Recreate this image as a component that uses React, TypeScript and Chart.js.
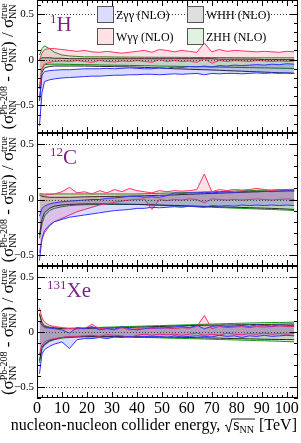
import React, { useEffect, useRef } from 'react';
import { Chart, registerables } from 'chart.js';

Chart.register(...registerables);

// ---------------- data ----------------
const energies = [1, 2, 3, 5, 7, 10, 13, 16, 19, 22, 25, 28, 31, 34, 37, 40, 43, 46, 49, 52, 55, 58, 61, 64, 67, 70, 73, 76, 79, 82, 85, 88, 91, 94, 97, 100, 103];
const xTickValues = [0, 10, 20, 30, 40, 50, 60, 70, 80, 90, 100];
const yTickValues = [-0.5, 0, 0.5];

const processNames = ['Zγγ (NLO)', 'Wγγ (NLO)', 'WHH (NLO)', 'ZHH (NLO)'];

// 1H panel
const H_Zgg_lo = [-0.72, -0.36, -0.24, -0.22, -0.21, -0.2, -0.195, -0.19, -0.185, -0.18, -0.18, -0.175, -0.17, -0.17, -0.165, -0.165, -0.16, -0.16, -0.165, -0.16, -0.155, -0.16, -0.155, -0.15, -0.165, -0.15, -0.155, -0.15, -0.15, -0.155, -0.15, -0.145, -0.15, -0.145, -0.15, -0.145, -0.15];
const H_Zgg_hi = [-0.45, -0.17, -0.13, -0.12, -0.115, -0.11, -0.11, -0.105, -0.1, -0.1, -0.1, -0.095, -0.1, -0.095, -0.09, -0.095, -0.1, -0.1, -0.09, -0.095, -0.08, -0.085, -0.075, -0.08, -0.07, -0.08, -0.065, -0.07, -0.06, -0.065, -0.06, -0.055, -0.06, -0.05, -0.055, -0.045, -0.05];
const H_Wgg_lo = [-0.32, -0.1, -0.05, -0.03, -0.02, -0.015, -0.02, -0.01, -0.02, -0.03, -0.01, -0.02, -0.025, -0.015, -0.02, -0.01, -0.02, -0.03, 0.0, -0.02, -0.01, -0.02, -0.015, -0.03, 0.01, -0.04, -0.01, -0.02, -0.01, -0.015, -0.02, -0.01, -0.015, -0.02, -0.015, -0.02, -0.015];
const H_Wgg_hi = [0.0, 0.07, 0.11, 0.12, 0.12, 0.11, 0.1, 0.09, 0.1, 0.085, 0.08, 0.09, 0.08, 0.07, 0.08, 0.09, 0.1, 0.08, 0.11, 0.1, 0.085, 0.1, 0.09, 0.08, 0.18, 0.085, 0.11, 0.09, 0.1, 0.095, 0.09, 0.085, 0.09, 0.085, 0.08, 0.09, 0.085];
const H_WHH_lo = [-0.45, -0.14, -0.09, -0.075, -0.07, -0.07, -0.07, -0.07, -0.07, -0.072, -0.074, -0.075, -0.077, -0.078, -0.08, -0.082, -0.085, -0.088, -0.09, -0.095, -0.1, -0.102, -0.105, -0.108, -0.11, -0.113, -0.116, -0.12, -0.123, -0.126, -0.13, -0.133, -0.136, -0.14, -0.143, -0.146, -0.15];
const H_WHH_hi = [0.0, 0.02, 0.02, 0.02, 0.015, 0.015, 0.01, 0.01, 0.01, 0.01, 0.01, 0.01, 0.01, 0.01, 0.01, 0.01, 0.01, 0.01, 0.01, 0.01, 0.01, 0.01, 0.01, 0.01, 0.01, 0.01, 0.005, 0.005, 0.005, 0.005, 0.005, 0.005, 0.0, 0.0, 0.0, 0.0, 0.0];
const H_ZHH_lo = [-0.3, -0.1, -0.055, -0.05, -0.05, -0.05, -0.052, -0.054, -0.055, -0.056, -0.058, -0.06, -0.061, -0.062, -0.064, -0.065, -0.066, -0.068, -0.07, -0.071, -0.072, -0.074, -0.075, -0.077, -0.078, -0.08, -0.081, -0.083, -0.084, -0.086, -0.087, -0.089, -0.09, -0.092, -0.094, -0.095, -0.097];
const H_ZHH_hi = [0.05, 0.12, 0.15, 0.12, 0.08, 0.05, 0.04, 0.035, 0.03, 0.03, 0.03, 0.03, 0.028, 0.028, 0.027, 0.027, 0.026, 0.026, 0.025, 0.025, 0.025, 0.024, 0.024, 0.023, 0.023, 0.022, 0.022, 0.022, 0.021, 0.021, 0.02, 0.02, 0.02, 0.02, 0.02, 0.02, 0.02];

// 12C panel
const C_Zgg_lo = [-0.55, -0.35, -0.28, -0.23, -0.2, -0.18, -0.16, -0.15, -0.14, -0.13, -0.12, -0.11, -0.1, -0.095, -0.09, -0.08, -0.08, -0.07, -0.075, -0.07, -0.065, -0.07, -0.06, -0.065, -0.07, -0.055, -0.06, -0.055, -0.06, -0.05, -0.055, -0.05, -0.055, -0.05, -0.055, -0.05, -0.055];
const C_Zgg_hi = [-0.15, -0.08, -0.06, -0.04, -0.03, -0.02, -0.015, -0.01, -0.005, 0.0, 0.0, 0.01, 0.015, 0.02, 0.03, 0.03, 0.02, 0.025, 0.02, 0.035, 0.06, 0.055, 0.06, 0.06, 0.065, 0.06, 0.065, 0.07, 0.065, 0.07, 0.075, 0.07, 0.075, 0.07, 0.075, 0.08, 0.075];
const C_Wgg_lo = [-0.48, -0.36, -0.3, -0.24, -0.2, -0.17, -0.14, -0.11, -0.09, -0.07, -0.05, -0.04, -0.025, -0.015, -0.005, 0.0, 0.005, -0.09, 0.0, -0.01, 0.0, -0.005, 0.005, 0.0, -0.03, 0.005, 0.0, -0.005, 0.0, -0.005, 0.0, 0.005, 0.0, -0.005, 0.0, 0.005, 0.0];
const C_Wgg_hi = [0.04, 0.04, 0.04, 0.045, 0.05, 0.07, 0.11, 0.06, 0.07, 0.05, 0.08, 0.06, 0.09, 0.07, 0.1, 0.08, 0.07, 0.06, 0.08, 0.07, 0.08, 0.075, 0.08, 0.09, 0.23, 0.07, 0.09, 0.08, 0.09, 0.085, 0.09, 0.1, 0.09, 0.08, 0.09, 0.085, 0.09];
const C_WHH_lo = [-0.32, -0.18, -0.12, -0.08, -0.06, -0.05, -0.045, -0.042, -0.04, -0.04, -0.04, -0.04, -0.041, -0.042, -0.043, -0.044, -0.046, -0.048, -0.05, -0.052, -0.054, -0.056, -0.058, -0.06, -0.062, -0.064, -0.066, -0.068, -0.07, -0.072, -0.074, -0.076, -0.078, -0.08, -0.083, -0.086, -0.09];
const C_WHH_hi = [0.04, 0.03, 0.025, 0.02, 0.02, 0.02, 0.02, 0.022, 0.024, 0.025, 0.026, 0.027, 0.028, 0.03, 0.03, 0.032, 0.034, 0.036, 0.038, 0.04, 0.042, 0.045, 0.047, 0.05, 0.052, 0.055, 0.057, 0.06, 0.062, 0.065, 0.067, 0.07, 0.072, 0.074, 0.076, 0.078, 0.08];
const C_ZHH_lo = [-0.35, -0.22, -0.15, -0.1, -0.08, -0.065, -0.055, -0.05, -0.048, -0.046, -0.045, -0.045, -0.045, -0.045, -0.045, -0.045, -0.047, -0.05, -0.052, -0.055, -0.058, -0.06, -0.063, -0.065, -0.068, -0.07, -0.073, -0.075, -0.078, -0.08, -0.083, -0.085, -0.088, -0.09, -0.093, -0.096, -0.1];
const C_ZHH_hi = [0.055, 0.05, 0.05, 0.05, 0.05, 0.05, 0.05, 0.05, 0.05, 0.05, 0.05, 0.05, 0.05, 0.05, 0.05, 0.05, 0.052, 0.054, 0.056, 0.058, 0.06, 0.062, 0.064, 0.066, 0.068, 0.07, 0.072, 0.074, 0.076, 0.078, 0.08, 0.082, 0.084, 0.086, 0.088, 0.09, 0.092];

// 131Xe panel
const Xe_Zgg_lo = [-0.38, -0.2, -0.16, -0.13, -0.11, -0.09, -0.15, -0.07, -0.06, -0.06, -0.05, -0.06, -0.045, -0.05, -0.04, -0.05, -0.04, -0.045, -0.04, -0.05, -0.035, -0.045, -0.04, -0.035, -0.04, -0.045, -0.03, -0.04, -0.035, -0.05, -0.035, -0.04, -0.03, -0.04, -0.035, -0.03, -0.035];
const Xe_Zgg_hi = [0.1, 0.06, 0.04, 0.035, 0.03, 0.02, -0.01, 0.04, 0.03, 0.05, 0.02, 0.03, 0.025, 0.05, 0.03, 0.02, 0.03, 0.04, 0.035, 0.04, 0.045, 0.05, 0.04, 0.06, 0.03, 0.05, 0.06, 0.05, 0.055, 0.06, 0.05, 0.065, 0.06, 0.055, 0.065, 0.06, 0.06];
const Xe_Wgg_lo = [-0.2, -0.12, -0.09, -0.07, -0.06, -0.05, -0.04, -0.04, -0.035, -0.03, -0.04, -0.025, -0.03, -0.035, -0.05, -0.03, -0.02, -0.03, -0.02, -0.025, -0.02, -0.03, -0.02, -0.01, -0.03, -0.02, -0.03, -0.01, -0.02, -0.025, -0.015, -0.02, -0.01, -0.02, -0.015, -0.02, -0.015];
const Xe_Wgg_hi = [0.22, 0.13, 0.09, 0.06, 0.05, 0.04, 0.03, 0.035, 0.03, 0.07, 0.03, 0.03, 0.02, 0.04, 0.02, 0.03, 0.04, 0.03, 0.04, 0.035, 0.03, 0.04, 0.035, 0.05, 0.15, 0.03, 0.05, 0.04, 0.045, 0.05, 0.04, 0.05, 0.045, 0.05, 0.055, 0.05, 0.05];
const Xe_WHH_lo = [-0.26, -0.14, -0.11, -0.08, -0.065, -0.05, -0.045, -0.042, -0.04, -0.04, -0.04, -0.04, -0.04, -0.041, -0.042, -0.043, -0.044, -0.045, -0.046, -0.047, -0.048, -0.049, -0.05, -0.052, -0.053, -0.055, -0.056, -0.058, -0.06, -0.061, -0.063, -0.064, -0.066, -0.067, -0.068, -0.069, -0.07];
const Xe_WHH_hi = [0.16, 0.08, 0.05, 0.04, 0.035, 0.03, 0.03, 0.03, 0.032, 0.034, 0.035, 0.036, 0.038, 0.04, 0.042, 0.044, 0.046, 0.048, 0.05, 0.052, 0.054, 0.056, 0.058, 0.06, 0.061, 0.062, 0.063, 0.064, 0.065, 0.066, 0.067, 0.068, 0.069, 0.07, 0.071, 0.072, 0.073];
const Xe_ZHH_lo = [-0.28, -0.15, -0.12, -0.085, -0.07, -0.055, -0.05, -0.047, -0.045, -0.045, -0.045, -0.045, -0.045, -0.046, -0.047, -0.048, -0.05, -0.051, -0.053, -0.055, -0.057, -0.058, -0.06, -0.062, -0.064, -0.066, -0.068, -0.07, -0.072, -0.074, -0.076, -0.078, -0.08, -0.082, -0.084, -0.087, -0.09];
const Xe_ZHH_hi = [0.17, 0.09, 0.06, 0.045, 0.04, 0.035, 0.035, 0.036, 0.038, 0.04, 0.042, 0.044, 0.046, 0.048, 0.05, 0.052, 0.054, 0.056, 0.058, 0.06, 0.062, 0.064, 0.066, 0.068, 0.07, 0.072, 0.074, 0.076, 0.078, 0.08, 0.082, 0.083, 0.085, 0.086, 0.087, 0.088, 0.09];

const panelMass = ['1', '12', '131'];
const panelElement = ['H', 'C', 'Xe'];
const panelYMin = [-0.8, -0.6, -0.6];
const panelYMax = [0.65, 0.6, 0.6];
const panelBands = [
  [[H_Zgg_lo, H_Zgg_hi], [H_Wgg_lo, H_Wgg_hi], [H_WHH_lo, H_WHH_hi], [H_ZHH_lo, H_ZHH_hi]],
  [[C_Zgg_lo, C_Zgg_hi], [C_Wgg_lo, C_Wgg_hi], [C_WHH_lo, C_WHH_hi], [C_ZHH_lo, C_ZHH_hi]],
  [[Xe_Zgg_lo, Xe_Zgg_hi], [Xe_Wgg_lo, Xe_Wgg_hi], [Xe_WHH_lo, Xe_WHH_hi], [Xe_ZHH_lo, Xe_ZHH_hi]],
];

// ---------------- styles ----------------
const SERIF = '"Liberation Serif", "Times New Roman", serif';
const lineColors = ['rgb(50,50,255)', 'rgb(255,50,100)', 'rgb(40,40,40)', 'rgb(20,150,20)'];
const fillColors = ['rgba(0,0,255,0.14)', 'rgba(255,0,50,0.12)', 'rgba(0,0,0,0.13)', 'rgba(0,150,0,0.12)'];
const legendFill = ['rgb(220,220,255)', 'rgb(255,225,230)', 'rgb(222,222,222)', 'rgb(224,242,224)'];
const labelColor = '#7f1f7f';

// canvas placement (page px)
const LAYOUT = [
  { top: 0, h: 140, padTop: 0, padBottom: 7 },
  { top: 128, h: 145, padTop: 5, padBottom: 7 },
  { top: 261, h: 182, padTop: 5, padBottom: 0 },
];

type Part = { t?: string; sup?: string; sub?: string };
const yTitleParts: Part[] = [
  { t: '(' }, { t: 'σ' }, { sup: 'Pb-208', sub: 'NN' }, { t: ' - ' }, { t: 'σ' }, { sup: 'true', sub: 'NN' },
  { t: ') / ' }, { t: 'σ' }, { sup: 'true', sub: 'NN' },
];

function richWidth(ctx: CanvasRenderingContext2D, parts: Part[], main: number, small: number) {
  let w = 0;
  for (const p of parts) {
    if (p.t !== undefined) {
      ctx.font = `${main}px ${SERIF}`;
      w += ctx.measureText(p.t).width;
    } else {
      ctx.font = `${small}px ${SERIF}`;
      w += Math.max(ctx.measureText(p.sup || '').width, ctx.measureText(p.sub || '').width);
    }
  }
  return w;
}

function drawRich(ctx: CanvasRenderingContext2D, parts: Part[], x: number, y: number, main: number, small: number, supDy: number, subDy: number) {
  ctx.textAlign = 'left';
  ctx.textBaseline = 'alphabetic';
  for (const p of parts) {
    if (p.t !== undefined) {
      ctx.font = `${main}px ${SERIF}`;
      ctx.fillText(p.t, x, y);
      x += ctx.measureText(p.t).width;
    } else {
      ctx.font = `${small}px ${SERIF}`;
      if (p.sup) ctx.fillText(p.sup, x, y + supDy);
      if (p.sub) ctx.fillText(p.sub, x, y + subDy);
      x += Math.max(ctx.measureText(p.sup || '').width, ctx.measureText(p.sub || '').width);
    }
  }
  return x;
}

function seg(ctx: CanvasRenderingContext2D, x1: number, y1: number, x2: number, y2: number) {
  ctx.beginPath();
  ctx.moveTo(x1, y1);
  ctx.lineTo(x2, y2);
  ctx.stroke();
}

function makeDecor(panel: number) {
  return {
    id: 'decor' + panel,
    afterDatasetsDraw(chart: any) {
      const { ctx, chartArea: a } = chart;
      const xs = chart.scales.x;
      const ys = chart.scales.y;
      ctx.save();
      ctx.lineWidth = 1;
      // dotted reference lines
      ctx.setLineDash([1, 2]);
      ctx.strokeStyle = '#444';
      for (const v of yTickValues) {
        const y = Math.round(ys.getPixelForValue(v)) + 0.5;
        seg(ctx, a.left, y, a.right, y);
      }
      ctx.setLineDash([]);
      ctx.strokeStyle = '#000';
      // x ticks (inward, top & bottom)
      for (let v = 0; v <= xs.max; v += 2) {
        const x = Math.round(xs.getPixelForValue(v)) + 0.5;
        const len = v % 10 === 0 ? 6 : 3;
        seg(ctx, x, a.bottom, x, a.bottom - len);
        seg(ctx, x, a.top, x, a.top + len);
      }
      // y ticks (inward, left & right)
      for (let k = Math.ceil(ys.min * 10 - 1e-6); k <= Math.floor(ys.max * 10 + 1e-6); k++) {
        const y = Math.round(ys.getPixelForValue(k / 10)) + 0.5;
        const len = k % 5 === 0 ? 8 : 4;
        seg(ctx, a.left, y, a.left + len, y);
        seg(ctx, a.right, y, a.right - len, y);
      }
      // frame
      ctx.strokeRect(a.left + 0.5, a.top + 0.5, a.right - a.left - 1, a.bottom - a.top - 1);
      ctx.restore();
    },
    afterDraw(chart: any) {
      const { ctx, chartArea: a } = chart;
      ctx.save();
      ctx.fillStyle = '#000';
      // y-axis title (rotated)
      const main = 17, small = 10;
      const w = richWidth(ctx, yTitleParts, main, small);
      ctx.translate(13, (a.top + a.bottom) / 2);
      ctx.rotate(-Math.PI / 2);
      drawRich(ctx, yTitleParts, -w / 2, 0, main, small, -6.5, 2.5);
      ctx.restore();

      // panel label e.g. 1H
      ctx.save();
      ctx.fillStyle = labelColor;
      ctx.textBaseline = 'alphabetic';
      ctx.textAlign = 'left';
      const lx = panel === 2 ? 47 : 50;
      const base = a.top + 31;
      ctx.font = `13px ${SERIF}`;
      ctx.fillText(panelMass[panel], lx, base - 8);
      const mw = ctx.measureText(panelMass[panel]).width;
      ctx.font = `21px ${SERIF}`;
      ctx.fillText(panelElement[panel], lx + mw, base);
      ctx.restore();

      // legend on first panel
      if (panel === 0) {
        ctx.save();
        const cols = [97, 187];
        const rows = [6, 28];
        for (let i = 0; i < 4; i++) {
          const bx = cols[i < 2 ? 0 : 1];
          const by = rows[i % 2];
          ctx.fillStyle = legendFill[i];
          ctx.fillRect(bx, by, 16, 16);
          ctx.strokeStyle = '#555';
          ctx.lineWidth = 1;
          ctx.strokeRect(bx + 0.5, by + 0.5, 16, 16);
          ctx.fillStyle = '#000';
          ctx.font = `12px ${SERIF}`;
          ctx.textAlign = 'left';
          ctx.textBaseline = 'alphabetic';
          ctx.fillText(processNames[i], bx + 19, by + 13);
        }
        ctx.restore();
      }

      // x-axis title on last panel
      if (panel === 2) {
        ctx.save();
        ctx.fillStyle = '#000';
        ctx.strokeStyle = '#000';
        ctx.textBaseline = 'alphabetic';
        ctx.textAlign = 'left';
        const fs = 16;
        const y = 169;
        ctx.font = `${fs}px ${SERIF}`;
        const t1 = 'nucleon-nucleon collider energy, ';
        const t2 = 's';
        const t3 = ' [TeV]';
        const w1 = ctx.measureText(t1).width;
        const w2 = ctx.measureText(t2).width;
        const w3 = ctx.measureText(t3).width;
        ctx.font = `10px ${SERIF}`;
        const wn = ctx.measureText('NN').width;
        const rad = 9;
        const total = w1 + rad + w2 + wn + 1 + w3;
        let x = 297 - total;
        ctx.font = `${fs}px ${SERIF}`;
        ctx.fillText(t1, x, y);
        x += w1;
        // radical sign
        ctx.lineWidth = 0.9;
        ctx.beginPath();
        ctx.moveTo(x + 0.5, y - 4);
        ctx.lineTo(x + 2, y - 5);
        ctx.lineTo(x + 4.5, y + 2);
        ctx.lineTo(x + 7.5, y - 11);
        ctx.lineTo(x + rad + w2 + wn + 1, y - 11);
        ctx.stroke();
        x += rad;
        ctx.fillText(t2, x, y);
        x += w2;
        ctx.font = `10px ${SERIF}`;
        ctx.fillText('NN', x, y + 3);
        x += wn + 1;
        ctx.font = `${fs}px ${SERIF}`;
        ctx.fillText(t3, x, y);
        ctx.restore();
      }
    },
  };
}

function fmtTick(v: number) {
  if (v === 0) return '0';
  if (v < 0) return '\u2212' + String(Math.abs(v));
  return String(v);
}

function buildConfig(panel: number): any {
  const L = LAYOUT[panel];
  const showX = panel === 2;
  const datasets: any[] = [];
  panelBands[panel].forEach((band, j) => {
    const [lo, hi] = band;
    datasets.push({
      label: processNames[j] + ' lower',
      data: energies.map((e, i) => ({ x: e, y: lo[i] })),
      borderColor: lineColors[j],
      borderWidth: 1,
      pointRadius: 0,
      fill: false,
    });
    datasets.push({
      label: processNames[j] + ' upper',
      data: energies.map((e, i) => ({ x: e, y: hi[i] })),
      borderColor: lineColors[j],
      backgroundColor: fillColors[j],
      borderWidth: 1,
      pointRadius: 0,
      fill: '-1',
    });
  });
  return {
    type: 'line',
    data: { datasets },
    options: {
      responsive: false,
      animation: false,
      devicePixelRatio: 1,
      events: [],
      layout: { padding: { left: 0, right: 3, top: L.padTop, bottom: L.padBottom } },
      elements: { line: { tension: 0 }, point: { radius: 0 } },
      plugins: { legend: { display: false }, tooltip: { enabled: false }, title: { display: false } },
      scales: {
        x: {
          type: 'linear',
          min: 0,
          max: 104.5,
          display: showX,
          afterBuildTicks: (s: any) => { s.ticks = xTickValues.map((v) => ({ value: v })); },
          afterFit: (s: any) => { s.height = showX ? 45 : 0; s.paddingLeft = 0; s.paddingRight = 0; },
          grid: { display: false, drawTicks: false },
          border: { display: false },
          ticks: {
            font: { family: SERIF, size: 16 },
            color: '#000',
            padding: 1,
            autoSkip: false,
            maxRotation: 0,
            minRotation: 0,
          },
        },
        y: {
          type: 'linear',
          min: panelYMin[panel],
          max: panelYMax[panel],
          afterBuildTicks: (s: any) => { s.ticks = yTickValues.map((v) => ({ value: v })); },
          afterFit: (s: any) => { s.width = 37; s.paddingTop = 0; s.paddingBottom = 0; },
          grid: { display: false, drawTicks: false },
          border: { display: false },
          ticks: {
            font: { family: SERIF, size: 11 },
            color: '#000',
            padding: 3,
            autoSkip: false,
            callback: (v: number) => fmtTick(v),
          },
        },
      },
    },
    plugins: [makeDecor(panel)],
  };
}

export default function App() {
  const r0 = useRef<HTMLCanvasElement>(null);
  const r1 = useRef<HTMLCanvasElement>(null);
  const r2 = useRef<HTMLCanvasElement>(null);
  const refs = [r0, r1, r2];

  useEffect(() => {
    const charts = refs.map((r, i) => new Chart(r.current as HTMLCanvasElement, buildConfig(i)));
    return () => charts.forEach((c) => c.destroy());
  }, []);

  return (
    <div style={{ position: 'absolute', left: 0, top: 0, width: 301, height: 443, background: '#fff' }}>
      {LAYOUT.map((L, i) => (
        <canvas
          key={i}
          ref={refs[i]}
          width={301}
          height={L.h}
          style={{ position: 'absolute', left: 0, top: L.top, width: 301, height: L.h }}
        />
      ))}
    </div>
  );
}
